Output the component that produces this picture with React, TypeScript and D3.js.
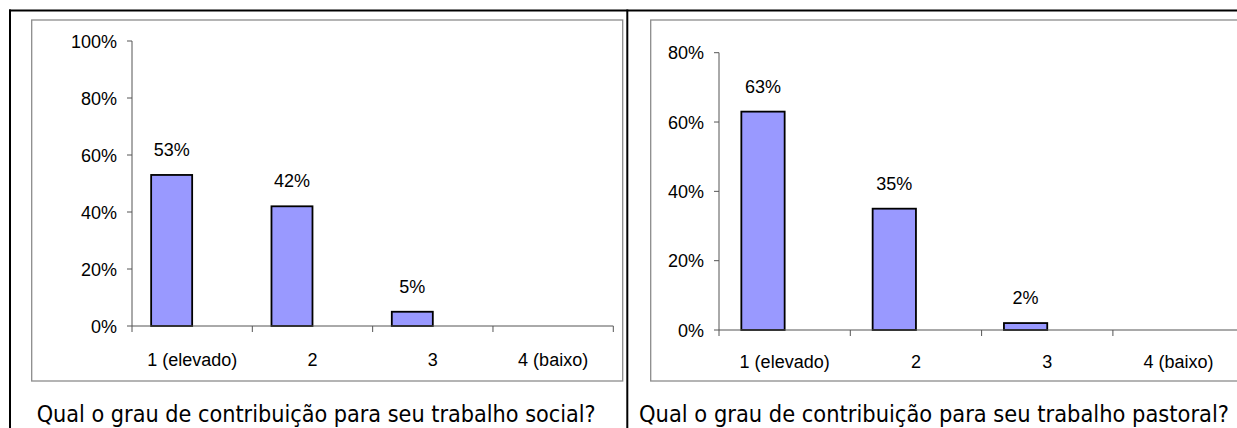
import React from "react";
import * as d3 from "d3";

const categories = ["1 (elevado)", "2", "3", "4 (baixo)"];
const seriesNames = ["respostas", "vazio"];
const socialValues = [0.53, 0.42, 0.05, 0];
const pastoralValues = [0.63, 0.35, 0.02, 0];
const socialTicks = [0, 0.2, 0.4, 0.6, 0.8, 1.0];
const pastoralTicks = [0, 0.2, 0.4, 0.6, 0.8];
const socialTitle = "Qual o grau de contribuição para seu trabalho social?";
const pastoralTitle = "Qual o grau de contribuição para seu trabalho pastoral?";

const W = 1237;
const H = 428;
const FONT = "Arial, 'Liberation Sans', sans-serif";
const TITLE_FONT = "Tahoma, 'DejaVu Sans Condensed', 'DejaVu Sans', sans-serif";
const FS = 18;

type Layout = {
  box: { x: number; y: number; w: number; h: number };
  axisX: number;
  axisEnd: number;
  y0: number;
  yTop: number;
  yMax: number;
  outer: number;
  catBaseline: number;
  titleX: number;
  titleW: number;
};

const socialLayout: Layout = {
  box: { x: 31.7, y: 20, w: 591, h: 361 },
  axisX: 132,
  axisEnd: 613.3,
  y0: 326,
  yTop: 41,
  yMax: 1.0,
  outer: 0.467,
  catBaseline: 366,
  titleX: 36.7,
  titleW: 559,
};

const pastoralLayout: Layout = {
  box: { x: 650.7, y: 20, w: 620, h: 361 },
  axisX: 719,
  axisEnd: 719 + 4 * 131.3,
  y0: 330,
  yTop: 52.7,
  yMax: 0.8,
  outer: 0.516,
  catBaseline: 368,
  titleX: 639,
  titleW: 590,
};

function Chart({ values, ticks, title, L }: { values: number[]; ticks: number[]; title: string; L: Layout }) {
  const x0 = d3.scaleBand<string>().domain(categories).range([L.axisX, L.axisEnd]).padding(0);
  const x1 = d3
    .scaleBand<string>()
    .domain(seriesNames)
    .range([0, x0.bandwidth()])
    .paddingInner(0)
    .paddingOuter(L.outer);
  const y = d3.scaleLinear().domain([0, L.yMax]).range([L.y0, L.yTop]);
  const fmt = d3.format(".0%");
  const boundaries = categories.map((c) => x0(c) as number).concat([L.axisEnd]);
  return (
    <g>
      <rect x={L.box.x} y={L.box.y} width={L.box.w} height={L.box.h} fill="#fff" stroke="#8c8c8c" strokeWidth={1.3} />
      <line x1={L.axisX} x2={L.axisX} y1={y(L.yMax)} y2={L.y0} stroke="#555" strokeWidth={1} />
      {ticks.map((t) => (
        <g key={t}>
          <line x1={L.axisX - 5} x2={L.axisX} y1={y(t)} y2={y(t)} stroke="#555" strokeWidth={1} />
          <text x={L.axisX - 15} y={y(t) + 6.5} textAnchor="end" fontFamily={FONT} fontSize={FS} fill="#000">
            {fmt(t)}
          </text>
        </g>
      ))}
      {categories.map((c, i) => {
        const v = values[i];
        const bx = (x0(c) as number) + (x1(seriesNames[0]) as number);
        const bw = x1.bandwidth();
        return (
          <g key={c}>
            {v > 0 && (
              <>
                <rect x={bx} y={y(v)} width={bw} height={L.y0 - y(v)} fill="#9999FF" stroke="#000" strokeWidth={1.8} />
                <text x={bx + bw / 2} y={y(v) - 19} textAnchor="middle" fontFamily={FONT} fontSize={FS} fill="#000">
                  {fmt(v)}
                </text>
              </>
            )}
            <text
              x={(x0(c) as number) + x0.bandwidth() / 2}
              y={L.catBaseline}
              textAnchor="middle"
              fontFamily={FONT}
              fontSize={FS}
              fill="#000"
            >
              {c}
            </text>
          </g>
        );
      })}
      <line x1={L.axisX} x2={L.axisEnd} y1={L.y0} y2={L.y0} stroke="#555" strokeWidth={1} />
      {boundaries.map((b, i) => (
        <line key={i} x1={b} x2={b} y1={L.y0} y2={L.y0 + 6} stroke="#555" strokeWidth={1} />
      ))}
      <text
        x={L.titleX}
        y={421.5}
        fontFamily={TITLE_FONT}
        fontSize={23.5}
        fill="#000"
        textLength={L.titleW}
        lengthAdjust="spacingAndGlyphs"
      >
        {title}
      </text>
    </g>
  );
}

export default function App() {
  return (
    <svg
      width={W}
      height={H}
      viewBox={`0 0 ${W} ${H}`}
      style={{ position: "absolute", left: 0, top: 0, background: "#fff" }}
    >
      <rect x={0} y={0} width={W} height={H} fill="#fff" />
      <Chart values={socialValues} ticks={socialTicks} title={socialTitle} L={socialLayout} />
      <Chart values={pastoralValues} ticks={pastoralTicks} title={pastoralTitle} L={pastoralLayout} />
      <line x1={9} x2={W} y1={10.5} y2={10.5} stroke="#000" strokeWidth={2} />
      <line x1={10} x2={10} y1={9.5} y2={H} stroke="#000" strokeWidth={2} />
      <line x1={627.3} x2={627.3} y1={9.5} y2={H} stroke="#000" strokeWidth={2} />
    </svg>
  );
}
